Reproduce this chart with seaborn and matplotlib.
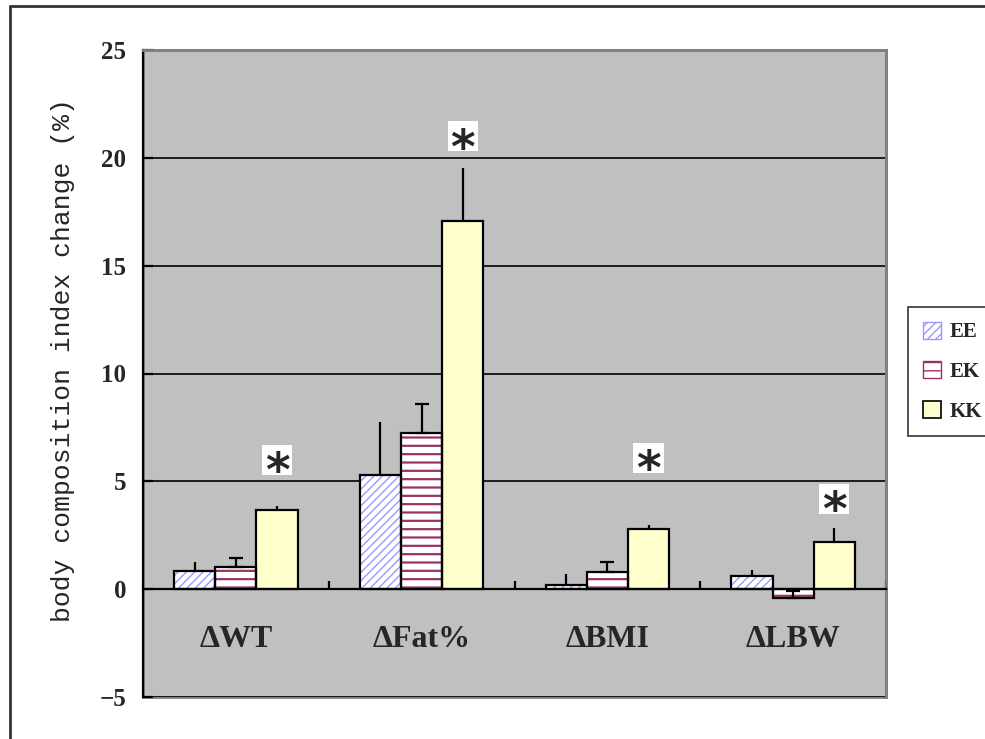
import numpy as np
import pandas as pd
import matplotlib
matplotlib.use("Agg")
import matplotlib.pyplot as plt
import seaborn as sns
from matplotlib.patches import Patch, Rectangle
from matplotlib.lines import Line2D

# Body composition index change (%) by intervention group
categories = ["ΔWT", "ΔFat%", "ΔBMI", "ΔLBW"]
groups = ["EE", "EK", "KK"]

ee_mean = [0.85, 5.29, 0.20, 0.59]
ee_err = [0.42, 2.44, 0.50, 0.31]
ek_mean = [1.05, 7.22, 0.79, -0.39]
ek_err = [0.39, 1.36, 0.48, 0.30]
kk_mean = [3.67, 17.07, 2.80, 2.21]
kk_err = [0.20, 2.48, 0.18, 0.62]

# significance markers above the KK bars
star_y = [6.0, 21.0, 6.1, 4.2]
y_ticks = [-5, 0, 5, 10, 15, 20, 25]

sns.set_theme(style="white")
plt.rcParams["font.family"] = ["Liberation Serif", "DejaVu Serif"]
plt.rcParams["hatch.linewidth"] = 1.0

df = pd.DataFrame({
    "index": categories * 3,
    "group": np.repeat(groups, len(categories)),
    "change": ee_mean + ek_mean + kk_mean,
})

fig = plt.figure(figsize=(9.85, 7.39), dpi=100)
W, H = 985, 739
ax = fig.add_axes([143 / W, 1 - 697 / H, 743 / W, 647 / H])
ax.set_facecolor("#c0c0c0")

palette = {"EE": "white", "EK": "white", "KK": "#ffffcc"}
sns.barplot(data=df, x="index", y="change", hue="group", order=categories,
            hue_order=groups, palette=palette, width=0.665, errorbar=None,
            dodge=True, saturation=1, legend=False, ax=ax)

hatch_style = {"EE": ("////", "#9999ff", 1.0),
               "EK": ("--", "#993366", 1.6),
               "KK": (None, None, None)}
errs = {"EE": ee_err, "EK": ek_err, "KK": kk_err}
means = {"EE": ee_mean, "EK": ek_mean, "KK": kk_mean}
caps = {"EE": 0, "EK": 5, "KK": 0}

centers = {}
for g, cont in zip(groups, ax.containers):
    hatch, hcolor, hlw = hatch_style[g]
    xs = []
    for p in cont.patches:
        xs.append(p.get_x() + p.get_width() / 2)
        if hatch:
            p.set_hatch(hatch)
            p.set_edgecolor(hcolor)
            p.set_linewidth(0)
            try:
                p.set_hatch_linewidth(hlw)
            except AttributeError:
                pass
        else:
            p.set_edgecolor("black")
            p.set_linewidth(1.6)
        p.set_zorder(2)
        if hatch:
            ax.add_patch(Rectangle(p.get_xy(), p.get_width(), p.get_height(),
                                   fill=False, edgecolor="black", lw=1.6, zorder=2.5))
    centers[g] = xs
    lower = [0] * len(xs)
    ax.errorbar(xs, means[g], yerr=[lower, errs[g]], fmt="none", ecolor="black",
                elinewidth=1.6, capsize=caps[g], capthick=1.6, zorder=3)

# significance stars
ax.scatter(centers["KK"], star_y, marker="s", s=470, color="white",
           edgecolors="none", zorder=5)
for x, y in zip(centers["KK"], star_y):
    ax.annotate("*", xy=(x, y), xytext=(0, -10), textcoords="offset points",
                ha="center", va="center", fontsize=34, fontweight="bold",
                family="DejaVu Sans", zorder=6)

ax.set_xlim(-0.5, len(categories) - 0.5)
ax.set_ylim(-5, 25)
ax.set_yticks(y_ticks)
ax.yaxis.grid(True, color="black", lw=1.2)
ax.set_axisbelow(True)

# category axis sits on the zero line
ax.spines["bottom"].set_position(("data", 0))
ax.spines["bottom"].set_color("black")
ax.spines["bottom"].set_linewidth(1.6)
ax.spines["left"].set_color("black")
ax.spines["left"].set_linewidth(1.6)
for s in ("top", "right"):
    ax.spines[s].set_color("#808080")
    ax.spines[s].set_linewidth(2)
ax.patch.set_edgecolor("#808080")
ax.patch.set_linewidth(2)

ax.set_xticks(range(len(categories)))
ax.set_xticklabels(categories, fontsize=23, fontweight="bold")
ax.set_xticks(np.arange(len(categories)) + 0.5, minor=True)
ax.tick_params(axis="x", which="major", length=0, pad=26)
ax.tick_params(axis="x", which="minor", direction="in", length=6, width=1.6,
               color="black", bottom=True)
ax.tick_params(axis="y", direction="in", length=7, width=1.6, color="black",
               left=True, pad=12, labelsize=18)
for lab in ax.get_yticklabels():
    lab.set_fontweight("bold")
ax.set_xlabel("")
ax.set_ylabel("body composition index change (%)", family="Liberation Mono",
              fontsize=19)
ax.yaxis.set_label_coords(-0.092, 0.52)

handles = []
for g in groups:
    hatch, hcolor, hlw = hatch_style[g]
    if hatch:
        handles.append(Patch(facecolor="white", edgecolor=hcolor, hatch=hatch))
    else:
        handles.append(Patch(facecolor=palette[g], edgecolor="black", lw=1.2))
leg = fig.legend(handles, groups, loc="upper left",
                 bbox_to_anchor=(908 / W, 1 - 307 / H), borderaxespad=0,
                 frameon=True, fancybox=False, edgecolor="black",
                 handlelength=0.9, handleheight=0.9, handletextpad=0.4,
                 labelspacing=0.9, borderpad=0.7,
                 prop={"weight": "bold", "size": 15})
leg.get_frame().set_linewidth(1.2)

# outer frame
fig.add_artist(Line2D([10 / W, 10 / W], [0, 1 - 6 / H], color="#333333", lw=2))
fig.add_artist(Line2D([10 / W, 1], [1 - 6 / H, 1 - 6 / H], color="#333333", lw=2))

fig.savefig("out.png", dpi=100, facecolor="white")
